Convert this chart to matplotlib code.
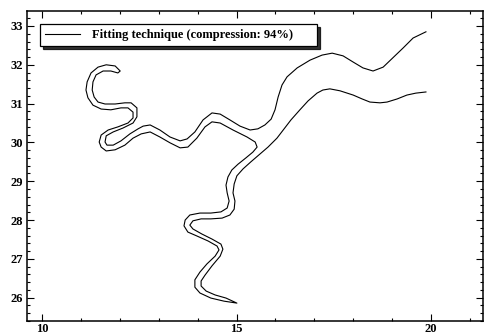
import numpy as np
import matplotlib
matplotlib.use("Agg")
import matplotlib.pyplot as plt
from matplotlib.ticker import MultipleLocator

plt.rcParams['font.family'] = ['Liberation Serif', 'DejaVu Serif']
plt.rcParams['font.weight'] = 'bold'

# upper bank: from the upper right end back to the tip of the hook
bank_b_x = [19.87, 19.54, 19.28, 19.02, 18.77, 18.51, 18.25, 18.00, 17.74, 17.46,
            17.20, 16.89, 16.56, 16.30, 16.17, 16.07, 15.99, 15.89, 15.73, 15.55,
            15.35, 15.09, 14.83, 14.58, 14.37, 14.14, 13.93, 13.73, 13.55, 13.29,
            13.03, 12.78, 12.60, 12.47, 12.26, 12.03, 11.83, 11.67, 11.62, 11.65,
            11.83, 12.08, 12.34, 12.44, 12.44, 12.29, 12.13, 11.88, 11.62, 11.44,
            11.34, 11.29, 11.31, 11.39, 11.57, 11.77, 11.95, 12.01]
bank_b_y = [32.85, 32.69, 32.43, 32.18, 31.94, 31.84, 31.92, 32.07, 32.23, 32.30,
            32.25, 32.12, 31.92, 31.69, 31.48, 31.17, 30.84, 30.60, 30.45, 30.35,
            30.32, 30.42, 30.58, 30.73, 30.76, 30.58, 30.27, 30.09, 30.04, 30.14,
            30.32, 30.45, 30.42, 30.35, 30.22, 30.04, 29.93, 29.93, 30.01, 30.17,
            30.27, 30.37, 30.50, 30.66, 30.89, 31.02, 31.02, 30.99, 30.99, 31.04,
            31.17, 31.35, 31.56, 31.74, 31.84, 31.84, 31.79, 31.84]

# outer bank of the hook, then west bank of the southern arm down to its tip
bank_a_x = [11.88, 11.65, 11.44, 11.26, 11.16, 11.13, 11.18, 11.31, 11.52, 11.77,
            12.03, 12.21, 12.34, 12.34, 12.21, 11.95, 11.70, 11.52, 11.47, 11.52,
            11.65, 11.88, 12.13, 12.34, 12.55, 12.78, 13.03, 13.29, 13.55, 13.75,
            13.98, 14.19, 14.37, 14.58, 14.91, 15.27, 15.48, 15.53, 15.42, 15.24,
            15.04, 14.88, 14.78, 14.73, 14.76, 14.81, 14.76, 14.60, 14.34, 14.06,
            13.80, 13.68, 13.65, 13.75, 13.98, 14.27, 14.50, 14.55, 14.45, 14.24,
            14.06, 13.93, 13.93, 14.06, 14.34, 14.68, 15.01]
bank_a_y = [31.97, 32.00, 31.94, 31.79, 31.56, 31.35, 31.15, 30.96, 30.86, 30.84,
            30.89, 30.89, 30.78, 30.63, 30.50, 30.40, 30.32, 30.19, 30.01, 29.88,
            29.78, 29.81, 29.93, 30.11, 30.22, 30.27, 30.14, 29.99, 29.86, 29.88,
            30.11, 30.40, 30.53, 30.50, 30.32, 30.14, 30.01, 29.88, 29.75, 29.60,
            29.44, 29.29, 29.11, 28.90, 28.70, 28.49, 28.31, 28.21, 28.18, 28.18,
            28.13, 28.00, 27.85, 27.69, 27.59, 27.46, 27.33, 27.23, 27.07, 26.87,
            26.66, 26.46, 26.27, 26.12, 25.99, 25.91, 25.86]

# east bank of the southern arm, then lower bank of the main channel
bank_c_x = [14.73, 14.45, 14.22, 14.09, 14.09, 14.19, 14.37, 14.58, 14.65, 14.60,
            14.37, 14.11, 13.88, 13.80, 13.88, 14.09, 14.34, 14.63, 14.83, 14.94,
            14.96, 14.91, 14.94, 15.01, 15.17, 15.37, 15.58, 15.81, 16.04, 16.20,
            16.40, 16.63, 16.84, 17.07, 17.22, 17.40, 17.66, 18.00, 18.23, 18.43,
            18.69, 18.87, 19.13, 19.38, 19.61, 19.87]
bank_c_y = [25.99, 26.07, 26.17, 26.30, 26.43, 26.58, 26.82, 27.07, 27.25, 27.38,
            27.51, 27.64, 27.77, 27.87, 27.98, 28.03, 28.03, 28.05, 28.13, 28.28,
            28.49, 28.70, 28.93, 29.14, 29.32, 29.50, 29.68, 29.88, 30.11, 30.32,
            30.58, 30.84, 31.07, 31.27, 31.35, 31.38, 31.33, 31.22, 31.12, 31.04,
            31.02, 31.04, 31.12, 31.22, 31.27, 31.30]

label = "Fitting technique (compression: 94%)"

x = np.concatenate([bank_b_x, bank_a_x, bank_c_x])
y = np.concatenate([bank_b_y, bank_a_y, bank_c_y])

fig = plt.figure(figsize=(4.84, 3.35), dpi=100)
ax = fig.add_axes([27 / 484, 14 / 335, 456 / 484, 310 / 335])
ax.plot(x, y, color='black', lw=0.8, label=label)

ax.set_xlim(9.614, 21.337)
ax.set_ylim(25.399, 33.386)
ax.xaxis.set_major_locator(MultipleLocator(5))
ax.xaxis.set_minor_locator(MultipleLocator(1))
ax.yaxis.set_major_locator(MultipleLocator(1))
ax.yaxis.set_minor_locator(MultipleLocator(0.2))
ax.tick_params(which='both', direction='in', top=True, right=True, width=0.8,
               labelsize=9, pad=3)
ax.tick_params(axis='x', pad=1.5)
ax.tick_params(which='major', length=5)
ax.tick_params(which='minor', length=2.5)
for s in ax.spines.values():
    s.set_linewidth(1.1)

leg = ax.legend(loc='upper left', bbox_to_anchor=(0.0285, 0.858, 0.6075, 0.1),
                mode='expand', borderaxespad=0, fancybox=False, edgecolor='black',
                handlelength=2.8, handletextpad=1.0, borderpad=0.4, fontsize=9,
                shadow={'color': 'black', 'alpha': 0.8, 'ox': 2, 'oy': -2})
leg.get_frame().set_linewidth(0.9)

fig.savefig('out.png', dpi=100)
